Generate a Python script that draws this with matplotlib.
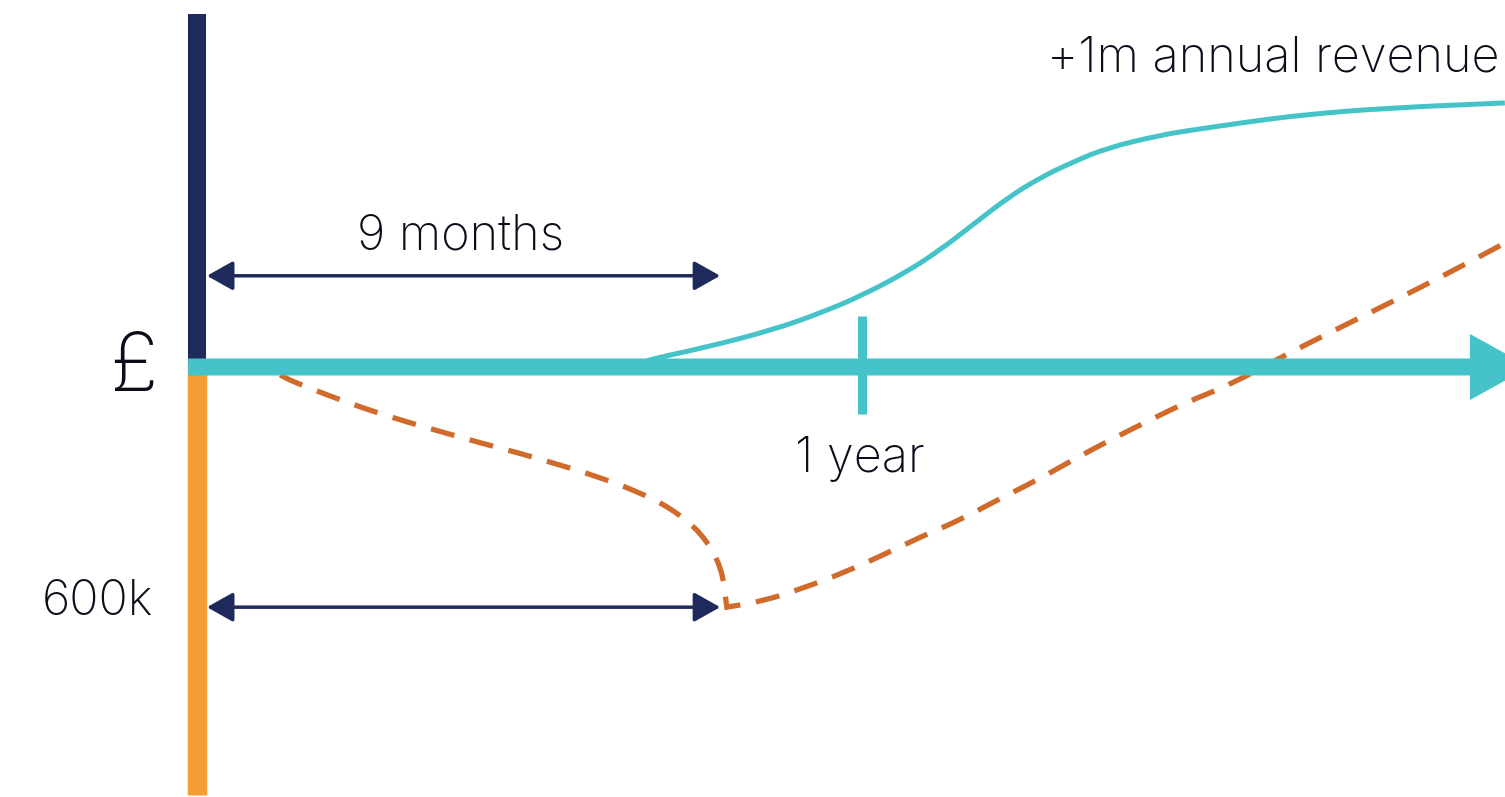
import matplotlib
matplotlib.use("Agg")
import matplotlib.pyplot as plt
from matplotlib.path import Path
from matplotlib.patches import PathPatch

# x in months, y in £k
revenue_months = [7.99, 8.30, 9.20, 10.39, 11.30, 12.02, 12.81, 13.41, 14.00, 14.62, 15.21,
                  15.81, 16.42, 17.38, 17.96, 18.95, 19.94, 21.44, 23.60]
revenue_k = [10, 23, 50, 93, 138, 181, 239, 294, 357, 424, 475,
             515, 550, 582, 595, 615, 633, 650, 663]

# cash position: down to the low point, then back up
burn_months = [1.50, 1.75, 2.44, 3.10, 3.79, 4.49, 5.18, 5.86, 6.55, 7.24, 7.92, 8.55,
               9.11, 9.47, 9.56]
burn_k = [-20, -38, -75, -108, -138, -166, -193, -218, -246, -276, -311, -354,
          -417, -502, -603]
recover_months = [9.56, 10.21, 10.94, 11.66, 12.38, 13.05, 13.77, 14.44,
                  15.16, 15.81, 16.48, 17.20, 17.86, 18.64, 19.63, 21.02, 22.41, 23.60]
recover_k = [-603, -588, -555, -517, -472, -427, -384, -334,
             -284, -233, -183, -133, -88, -45, 30, 126, 223, 311]

payback_months = 9
year_mark = 12
cash_low = -603
labels = {'span': '9 months', 'year': '1 year', 'low': '600k', 'top': '+1m annual revenue'}

navy = '#1f2a5c'
orange = '#f59d34'
teal = '#45c3c9'
rust = '#d06b2b'
ink = '#0b0d1a'

plt.rcParams['font.family'] = ['Inter', 'DejaVu Sans']


def smooth_path(xs, ys):
    # quadratic bezier through midpoints, keeps the ends fixed
    pts = list(zip(xs, ys))
    verts = [pts[0]]
    codes = [Path.MOVETO]
    mid = lambda a, b: ((a[0] + b[0]) / 2, (a[1] + b[1]) / 2)
    verts.append(mid(pts[0], pts[1]))
    codes.append(Path.LINETO)
    for i in range(1, len(pts) - 1):
        verts += [pts[i], mid(pts[i], pts[i + 1])]
        codes += [Path.CURVE3, Path.CURVE3]
    verts.append(pts[-1])
    codes.append(Path.LINETO)
    return verts, codes


fig = plt.figure(figsize=(15.05, 7.97), dpi=100)
ax = fig.add_axes([0, 0, 1, 1])
ax.set_xlim(-3.555, 23.603)
ax.set_ylim(-1079.6, 921.4)
ax.axis('off')

# vertical £ axis: navy above, orange below
ax.plot([0, 0], [0, 886], color=navy, lw=13, solid_capstyle='butt', zorder=2)
ax.plot([0, 0], [10, -1075], color=orange, lw=14, solid_capstyle='butt', zorder=2)

# time axis
ax.arrow(-0.16, 0, 24.21, 0, width=42.7, head_width=166, head_length=1.08,
         length_includes_head=True, color=teal, lw=0, zorder=4)
ax.plot([year_mark, year_mark], [128, -118], color=teal, lw=6.5, solid_capstyle='butt', zorder=4)

# revenue curve
v, c = smooth_path(revenue_months, revenue_k)
ax.add_patch(PathPatch(Path(v, c), fill=False, edgecolor=teal, lw=3.6, zorder=3))

# cash curve, sharp corner at the low point
v1, c1 = smooth_path(burn_months, burn_k)
v2, c2 = smooth_path(recover_months, recover_k)
cash_path = Path(v1 + v2[1:], c1 + c2[1:])
ax.add_patch(PathPatch(cash_path, fill=False, edgecolor=rust, lw=3.8,
                       ls=(0, (4.6, 3.0)), capstyle='butt', joinstyle='miter', zorder=3))

# span arrows
arrow_style = dict(arrowstyle='<|-|>,head_length=0.8,head_width=0.45', color=navy,
                   lw=2.5, shrinkA=0, shrinkB=0, mutation_scale=20)
ax.annotate('', xy=(payback_months + 0.44, 229), xytext=(0.18, 229), arrowprops=arrow_style)
ax.annotate('', xy=(payback_months + 0.44, cash_low), xytext=(0.18, cash_low), arrowprops=arrow_style)

# text
txt = dict(va='baseline', fontsize=35, color=ink, fontweight='light')
ax.text(4.75, 294, labels['span'], ha='center', **txt)
ax.text(11.96, -264, labels['year'], ha='center', **txt)
ax.text(-1.80, -623, labels['low'], ha='center', **txt)
ax.text(23.51, 741, labels['top'], ha='right', **txt)
ax.text(-1.15, -60, '£', ha='center', va='baseline', fontsize=58, color=ink, fontweight='light')

fig.savefig('out.png', dpi=100, facecolor='white')
